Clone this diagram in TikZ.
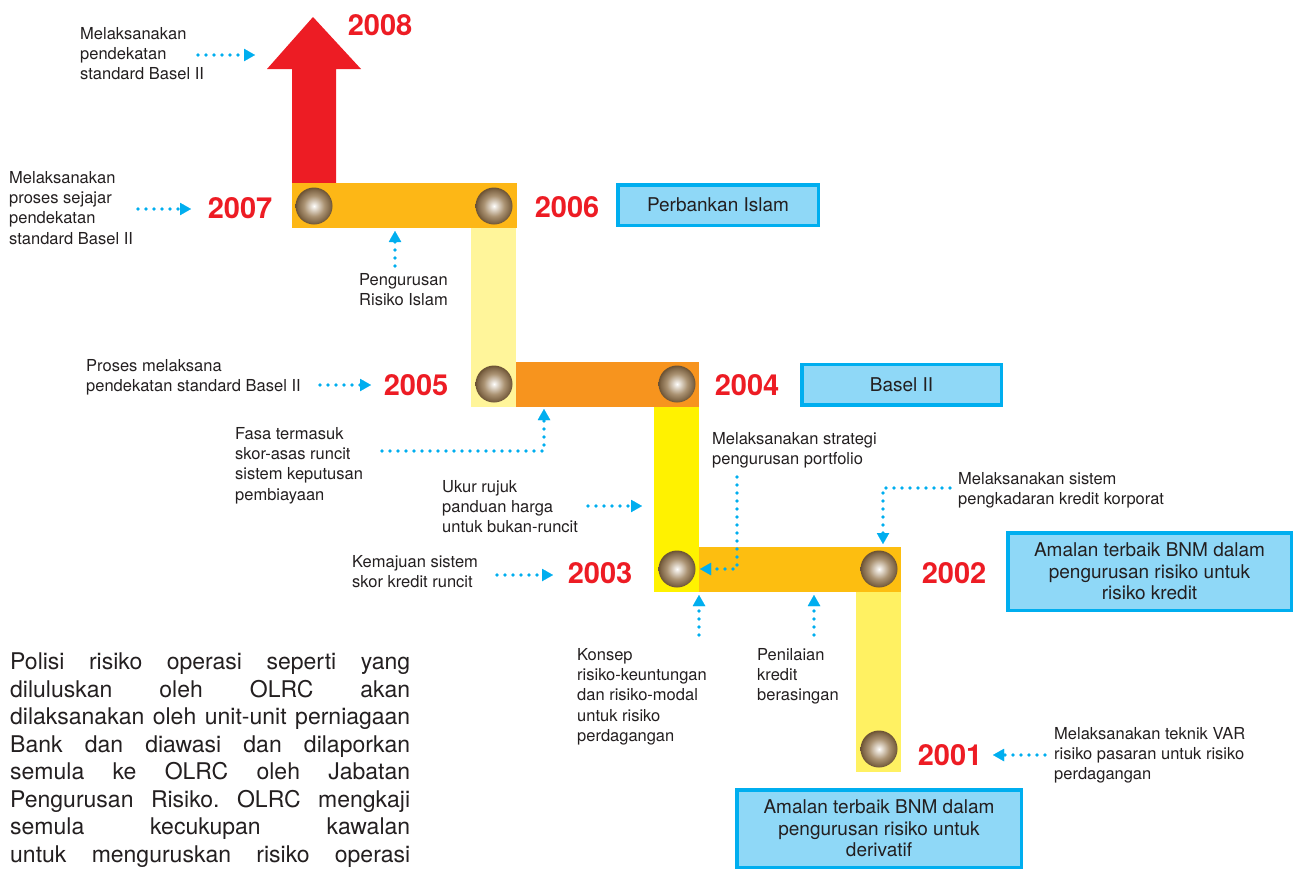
\documentclass[tikz,border=0pt]{standalone}
\usepackage{fontspec}
\setmainfont{TeX Gyre Heros}
\usetikzlibrary{arrows.meta}
\frenchspacing
\definecolor{redc}{HTML}{ED1C24}
\definecolor{txt}{HTML}{231F20}
\definecolor{barA}{HTML}{FDB716}
\definecolor{barB}{HTML}{F7941E}
\definecolor{barC}{HTML}{FDBE10}
\definecolor{colA}{HTML}{FFF59A}
\definecolor{colB}{HTML}{FFF200}
\definecolor{colC}{HTML}{FFF162}
\definecolor{boxfill}{HTML}{8FD8F7}
\definecolor{boxline}{HTML}{00AEEF}
\definecolor{arrowc}{HTML}{00AEEF}
\definecolor{ballhi}{HTML}{F2EEE8}
\definecolor{ballmid}{HTML}{AA9272}
\definecolor{ballout}{HTML}{806748}
\definecolor{balldark}{HTML}{6A5133}
\pgfdeclareradialshading{ballshade}{\pgfpoint{0bp}{0bp}}{color(0bp)=(white);color(2bp)=(ballhi);color(14bp)=(ballmid);color(22bp)=(ballout);color(25bp)=(balldark);color(50bp)=(balldark)}
\tikzset{
  lbl/.style={font=\fontsize{16.5}{20.3}\selectfont, text=txt, align=left, inner sep=0pt, anchor=north west},
  yr/.style={font=\fontsize{29}{29}\selectfont\bfseries, text=redc, inner sep=0pt},
  infobox/.style={draw=boxline, line width=3.5pt, fill=boxfill, font=\fontsize{19}{21.5}\selectfont, text=txt, align=center, inner sep=0pt},
  dotarrow/.style={draw=arrowc, line width=3.6pt, line cap=round, dash pattern=on 0pt off 8pt, -{Triangle[length=11pt,width=12.5pt,line width=0.01pt]}},
  ball/.style={circle, minimum size=37pt, inner sep=0pt, shading=ballshade}
}
\begin{document}
\begin{tikzpicture}[x=1pt,y=-1pt]
\useasboundingbox (0,0) rectangle (1295,870);

% timeline shapes
\fill[redc] (292,183) -- (292,69) -- (267,69) -- (313,17) -- (361,69) -- (336,69) -- (336,183) -- cycle;
\fill[barA] (292,183) rectangle (517,228);
\fill[colA] (471,228) rectangle (516,407);
\fill[barB] (516,362) rectangle (699,407);
\fill[colB] (654,407) rectangle (699,592);
\fill[barC] (699,547) rectangle (901,592);
\fill[colC] (856,592) rectangle (901,772);

% balls
\node[ball] (b2007) at (314,206) {};
\node[ball] (b2006) at (494,206) {};
\node[ball] (b2005) at (494,384) {};
\node[ball] (b2004) at (677,384) {};
\node[ball] (b2003) at (677,569) {};
\node[ball] (b2002) at (879,569) {};
\node[ball] (b2001) at (879,749) {};

% years
\node[yr] (y2008) at (380,25) {2008};
\node[yr] (y2007) at (240,208) {2007};
\node[yr] (y2006) at (567,207) {2006};
\node[yr] (y2005) at (416,385) {2005};
\node[yr] (y2004) at (747,385) {2004};
\node[yr] (y2003) at (600,573) {2003};
\node[yr] (y2002) at (954,573) {2002};
\node[yr] (y2001) at (950,755) {2001};

% boxes
\node[infobox, minimum width=200.5pt, minimum height=40.5pt] (bIslam) at (718,205) {Perbankan Islam};
\node[infobox, minimum width=199.5pt, minimum height=40.5pt] (bBasel) at (901.5,384.5) {Basel II};
\node[infobox, minimum width=283.5pt, minimum height=77.5pt] (bKredit) at (1149.5,571.5) {Amalan terbaik BNM dalam\\pengurusan risiko untuk\\risiko kredit};
\node[infobox, minimum width=284.5pt, minimum height=77.5pt] (bDeriv) at (879,828.5) {Amalan terbaik BNM dalam\\pengurusan risiko untuk\\derivatif};

% labels
\node[lbl] (l8) at (80,27) {Melaksanakan\\pendekatan\\standard Basel II};
\node[lbl] (l7) at (9,171) {Melaksanakan\\proses sejajar\\pendekatan\\standard Basel II};
\node[lbl] (lIslam) at (359,273) {Pengurusan\\Risiko Islam};
\node[lbl] (l5) at (86,359) {Proses melaksana\\pendekatan standard Basel II};
\node[lbl] (lFasa) at (235,427) {Fasa termasuk\\skor-asas runcit\\sistem keputusan\\pembiayaan};
\node[lbl] (lUkur) at (442,480) {Ukur rujuk\\panduan harga\\untuk bukan-runcit};
\node[lbl] (lKem) at (352,555) {Kemajuan sistem\\skor kredit runcit};
\node[lbl] (lPort) at (712,432) {Melaksanakan strategi\\pengurusan portfolio};
\node[lbl] (lKorp) at (958,472) {Melaksanakan sistem\\pengkadaran kredit korporat};
\node[lbl] (lKonsep) at (577,648) {Konsep\\risiko-keuntungan\\dan risiko-modal\\untuk risiko\\perdagangan};
\node[lbl] (lPen) at (757,648) {Penilaian\\kredit\\berasingan};
\node[lbl] (lVAR) at (1054,727) {Melaksanakan teknik VAR\\risiko pasaran untuk risiko\\perdagangan};

% paragraph
\node[font=\fontsize{23}{27.5}\selectfont, text=txt, align=left, inner sep=0pt, anchor=north west] (para) at (10,653) {%
\makebox[400pt][s]{Polisi risiko operasi seperti yang}\\
\makebox[400pt][s]{diluluskan oleh OLRC akan}\\
\makebox[400pt][s]{dilaksanakan oleh unit-unit perniagaan}\\
\makebox[400pt][s]{Bank dan diawasi dan dilaporkan}\\
\makebox[400pt][s]{semula ke OLRC oleh Jabatan}\\
\makebox[400pt][s]{Pengurusan Risiko. OLRC mengkaji}\\
\makebox[400pt][s]{semula kecukupan kawalan}\\
\makebox[400pt][s]{untuk menguruskan risiko operasi}};

% arrow end points
\coordinate (a8s) at (198,55);   \coordinate (a8e) at (255,55);
\coordinate (a7s) at (138,209);  \coordinate (a7e) at (191,209);
\coordinate (aIs) at (395,266);  \coordinate (aIe) at (395,231);
\coordinate (a5s) at (320,385);  \coordinate (a5e) at (371,385);
\coordinate (aFs) at (382,451);  \coordinate (aFe) at (544,409);
\coordinate (aUs) at (588,506);  \coordinate (aUe) at (642,506);
\coordinate (a3s) at (497,575);  \coordinate (a3e) at (553,575);
\coordinate (aPs) at (737,477);  \coordinate (aPe) at (700,569);
\coordinate (aKs) at (950,488);  \coordinate (aKe) at (883,544);
\coordinate (u1s) at (699,635);  \coordinate (u1e) at (699,595);
\coordinate (u2s) at (814,635);  \coordinate (u2e) at (814,595);
\coordinate (a1s) at (1045,755); \coordinate (a1e) at (993,755);

\draw[dotarrow] (a8s) -- (a8e);
\draw[dotarrow] (a7s) -- (a7e);
\draw[dotarrow] (aIs) -- (aIe);
\draw[dotarrow] (a5s) -- (a5e);
\draw[dotarrow] (aFs) -| (aFe);
\draw[dotarrow] (aUs) -- (aUe);
\draw[dotarrow] (a3s) -- (a3e);
\draw[dotarrow] (aPs) |- (aPe);
\draw[dotarrow] (aKs) -| (aKe);
\draw[dotarrow] (u1s) -- (u1e);
\draw[dotarrow] (u2s) -- (u2e);
\draw[dotarrow] (a1s) -- (a1e);
\end{tikzpicture}
\end{document}
